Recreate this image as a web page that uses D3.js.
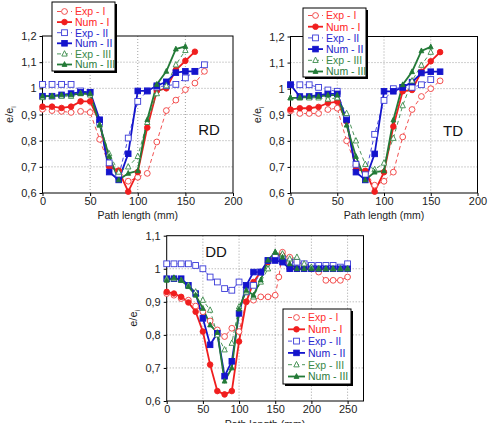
<!DOCTYPE html>
<html><head><meta charset="utf-8">
<script src="https://cdn.jsdelivr.net/npm/d3@7/dist/d3.min.js"></script>
<style>body{margin:0;background:#fff}svg{display:block}text{font-family:"Liberation Sans",Arial,sans-serif}</style>
</head><body>
<svg id="c" width="488" height="423"></svg>
<script>
// ---------- DATA ----------
const pathTop = [0,10,20,30,40,50,60,70,80,90,100,110,120,130,140,150,160,170];
const pathDD = [0,10,20,30,40,50,60,70,80,90,100,110,120,130,140,150,160,170,180,190,200,210,220,230,240,250];
const pathDDExpI = [0,10,20,30,40,50,60,70,80,90,100,110,120,130,140,150,155,160,170,180,190,200,210,220,230,240,250];

const rdExpI   = [0.92,0.915,0.912,0.908,0.912,0.908,0.805,0.705,0.685,0.645,0.66,0.675,0.795,0.915,0.955,0.995,1.02,1.065];
const rdNumI   = [0.93,0.93,0.925,0.93,0.95,0.95,0.87,0.70,0.685,0.605,0.68,0.85,0.99,1.0,1.07,1.105,1.14];
const rdExpII  = [1.015,1.015,1.015,1.015,0.99,0.985,0.87,0.715,0.665,0.81,0.95,0.99,1.005,1.01,1.015,1.04,1.065,1.09];
const rdNumII  = [0.97,0.97,0.975,0.98,0.985,0.985,0.88,0.68,0.65,0.75,0.99,0.99,1.01,1.025,1.06,1.065,1.065];
const rdExpIII = [0.965,0.97,0.97,0.97,0.98,0.975,0.86,0.75,0.68,0.70,0.74,0.87,0.98,1.01,1.09,1.145];
const rdNumIII = [0.97,0.97,0.975,0.975,0.98,0.98,0.86,0.74,0.65,0.675,0.685,0.88,1.015,1.065,1.15,1.16];

const tdExpI   = [0.915,0.905,0.905,0.905,0.92,0.925,0.80,0.705,0.68,0.63,0.645,0.68,0.815,0.92,0.97,1.0,1.03];
const tdNumI   = [0.92,0.925,0.925,0.93,0.945,0.95,0.875,0.69,0.685,0.605,0.68,0.855,0.99,0.995,1.065,1.105,1.14];
const tdExpII  = [1.015,1.015,1.015,1.005,0.995,0.99,0.885,0.71,0.67,0.825,0.955,1.0,1.005,1.005,1.015,1.035];
const tdNumII  = [1.015,0.97,0.97,0.975,0.98,0.98,0.88,0.68,0.65,0.75,0.99,0.99,1.005,1.025,1.06,1.065,1.065];
const tdExpIII = [0.965,0.965,0.965,0.965,0.96,0.965,0.905,0.80,0.71,0.69,0.715,0.81,0.935,1.03,1.09,1.14];
const tdNumIII = [0.965,0.965,0.97,0.97,0.975,0.975,0.86,0.74,0.65,0.68,0.685,0.88,1.015,1.065,1.145,1.16];

const ddExpI   = [0.925,0.92,0.91,0.905,0.887,0.87,0.842,0.815,0.795,0.82,0.81,0.9,0.905,0.915,0.915,0.92,0.975,1.05,1.035,1.02,1.01,1.0,0.99,0.965,0.965,0.965,0.975];
const ddNumI   = [0.93,0.925,0.915,0.898,0.87,0.81,0.71,0.63,0.62,0.63,0.78,0.9,0.96,0.99,1.02,1.04,1.04,1.0,1.0,1.0,1.0,1.0,1.0,1.0,1.0,1.0];
const ddExpII  = [1.015,1.015,1.015,1.015,1.01,1.0,0.975,0.96,0.94,0.935,0.96,0.93,0.95,0.99,1.025,1.035,1.03,1.02,1.02,1.015,1.01,1.01,1.01,1.01,1.005,1.015];
const ddNumII  = [0.97,0.97,0.97,0.95,0.925,0.85,0.77,0.805,0.675,0.72,0.865,0.95,0.99,0.99,1.025,1.025,1.02,1.0,1.0,1.0,1.0,1.0,1.0,1.0,1.0,1.0];
const ddExpIII = [0.97,0.97,0.965,0.95,0.93,0.905,0.875,0.80,0.755,0.775,0.885,0.93,0.915,0.96,1.0,1.05,1.045,1.03,1.035,1.015,1.005,1.0,1.0,1.0,1.0,1.0];
const ddNumIII = [0.965,0.973,0.965,0.946,0.92,0.88,0.83,0.807,0.66,0.70,0.878,0.935,0.92,0.966,1.026,1.05,1.035,1.015,1.0,1.0,1.0,1.0,1.0,1.0,1.0,1.0];

const seriesNames = ["Exp - I","Num - I","Exp - II","Num - II","Exp - III","Num - III"];
const xTicksTop = [0,50,100,150,200];
const xTicksDD = [0,50,100,150,200,250];
const yTicksTop = [0.6,0.7,0.8,0.9,1.0,1.1,1.2];
const yTicksDD = [0.6,0.7,0.8,0.9,1.0,1.1];

// ---------- STYLE ----------
const RED = "#f01e1e", BLUE = "#1414cc", GREEN = "#237a37";
const styles = [
  {color:"#f03c3c", dash:"4,3", w:0.9, marker:"circle", filled:false, text:"#ff3030"},
  {color:RED, dash:null, w:1.8, marker:"circle", filled:true, text:"#ff2020"},
  {color:"#3a3ad8", dash:"4,3", w:0.9, marker:"square", filled:false, text:"#2a2ad0"},
  {color:BLUE, dash:null, w:1.8, marker:"square", filled:true, text:"#2020c8"},
  {color:"#3a8a4a", dash:"4,3", w:0.9, marker:"triangle", filled:false, text:"#3a8a4a"},
  {color:GREEN, dash:null, w:1.8, marker:"triangle", filled:true, text:"#2a7a3a"}
];

const svg = d3.select("#c");
const locale = d3.formatLocale({decimal:",", thousands:".", grouping:[3], currency:["",""]});
const fmt = locale.format(".1~f");

function drawMarker(g, st, x, y) {
  const fill = st.filled ? st.color : "#fff";
  if (st.marker === "circle") {
    g.append("circle").attr("cx",x).attr("cy",y).attr("r", st.filled?2.8:2.9)
      .attr("fill",fill).attr("stroke",st.color).attr("stroke-width",0.9);
  } else if (st.marker === "square") {
    const s = st.filled?5.6:5.8;
    g.append("rect").attr("x",x-s/2).attr("y",y-s/2).attr("width",s).attr("height",s)
      .attr("fill",fill).attr("stroke",st.color).attr("stroke-width",0.9);
  } else {
    const s = st.filled?4.8:5.4;
    g.append("path").attr("d",`M${x},${y-s*0.6}L${x+s/2},${y+s*0.4}L${x-s/2},${y+s*0.4}Z`)
      .attr("fill",fill).attr("stroke",st.color).attr("stroke-width",0.9);
  }
}

function panel(cfg) {
  const x = d3.scaleLinear().domain(cfg.xDomain).range([cfg.left, cfg.right]);
  const y = d3.scaleLinear().domain(cfg.yDomain).range([cfg.bottom, cfg.top]);
  const g = svg.append("g");
  // grid
  const grid = g.append("g").attr("stroke","#8a8a8a").attr("stroke-width",0.8).attr("stroke-dasharray","1,2");
  cfg.xTicks.forEach(t => { if (t>cfg.xDomain[0] && t<cfg.xDomain[1]) grid.append("line").attr("x1",x(t)).attr("x2",x(t)).attr("y1",cfg.top).attr("y2",cfg.bottom); });
  cfg.yTicks.forEach(t => { if (t>cfg.yDomain[0]+1e-9 && t<cfg.yDomain[1]-1e-9) grid.append("line").attr("x1",cfg.left).attr("x2",cfg.right).attr("y1",y(t)).attr("y2",y(t)); });
  // axes
  const ax = g.append("g").attr("transform",`translate(0,${cfg.bottom})`)
    .call(d3.axisBottom(x).tickValues(cfg.xTicks).tickSize(3).tickPadding(1).tickFormat(d3.format("d")));
  const ay = g.append("g").attr("transform",`translate(${cfg.left},0)`)
    .call(d3.axisLeft(y).tickValues(cfg.yTicks).tickSize(3).tickPadding(3).tickFormat(fmt));
  [ax,ay].forEach(a => { a.select(".domain").remove(); a.selectAll("text").attr("font-size",11).attr("fill","#222").style("font-family","'Liberation Sans',Arial,sans-serif"); a.selectAll("line").attr("stroke","#000"); });
  // frame
  g.append("rect").attr("x",cfg.left).attr("y",cfg.top).attr("width",cfg.right-cfg.left).attr("height",cfg.bottom-cfg.top)
    .attr("fill","none").attr("stroke","#000").attr("stroke-width",1);
  // series
  const sg = g.append("g");
  cfg.series.forEach((vals,i) => {
    const st = styles[i];
    const xs = cfg.paths[i];
    const pts = vals.map((v,k)=>[x(xs[k]), y(v)]);
    sg.append("path").attr("d", d3.line()(pts)).attr("fill","none").attr("stroke",st.color)
      .attr("stroke-width",st.w).attr("stroke-dasharray",st.dash);
  });
  cfg.series.forEach((vals,i) => {
    const st = styles[i];
    const xs = cfg.paths[i];
    vals.forEach((v,k)=>drawMarker(sg, st, x(xs[k]), y(v)));
  });
  // labels
  g.append("text").attr("x",(cfg.left+cfg.right)/2).attr("y",cfg.xTitleY).attr("text-anchor","middle")
    .attr("font-size",10.5).attr("fill","#222").text("Path length (mm)");
  const yt = g.append("text").attr("transform",`translate(${cfg.yTitleX},${(cfg.top+cfg.bottom)/2}) rotate(-90)`)
    .attr("text-anchor","middle").attr("font-size",11).attr("fill","#222");
  yt.append("tspan").text("e/e");
  yt.append("tspan").attr("font-size",7).attr("dy",3).text("i");
  g.append("text").attr("x",cfg.nameX).attr("y",cfg.nameY).attr("text-anchor","middle")
    .attr("font-size",15).attr("fill","#111").text(cfg.name);
  // legend
  const L = cfg.legend;
  const lg = g.append("g");
  lg.append("rect").attr("x",L.x+2).attr("y",L.y+2).attr("width",L.w).attr("height",L.h).attr("fill","#000");
  lg.append("rect").attr("x",L.x).attr("y",L.y).attr("width",L.w).attr("height",L.h).attr("fill","#fff").attr("stroke","#000").attr("stroke-width",1);
  seriesNames.forEach((nm,i) => {
    const st = styles[i];
    const yy = L.y + L.first + i*L.step;
    lg.append("line").attr("x1",L.x+5).attr("x2",L.x+5+L.len).attr("y1",yy).attr("y2",yy)
      .attr("stroke",st.color).attr("stroke-width",st.w).attr("stroke-dasharray",st.dash);
    drawMarker(lg, st, L.x+5+L.len/2, yy);
    lg.append("text").attr("x",L.x+L.len+8).attr("y",yy+3.8).attr("font-size",10.5).attr("fill",st.text).text(nm);
  });
}

panel({name:"RD", nameX:209, nameY:135, left:42.5, right:233, top:36, bottom:193,
  xDomain:[0,200], yDomain:[0.6,1.2], xTicks:xTicksTop, yTicks:yTicksTop, xTitleY:219, yTitleX:13,
  paths:[pathTop,pathTop,pathTop,pathTop,pathTop,pathTop],
  series:[rdExpI,rdNumI,rdExpII,rdNumII,rdExpIII,rdNumIII],
  legend:{x:52,y:2,w:63,h:69,first:9.5,step:10.6,len:15}});

panel({name:"TD", nameX:453, nameY:136, left:290.5, right:477.5, top:36.5, bottom:193,
  xDomain:[0,200], yDomain:[0.6,1.2], xTicks:xTicksTop, yTicks:yTicksTop, xTitleY:219, yTitleX:261,
  paths:[pathTop,pathTop,pathTop,pathTop,pathTop,pathTop],
  series:[tdExpI,tdNumI,tdExpII,tdNumII,tdExpIII,tdNumIII],
  legend:{x:303,y:8,w:63,h:69,first:7.5,step:11.2,len:15}});

panel({name:"DD", nameX:216, nameY:257, left:166.7, right:363.5, top:235.7, bottom:401,
  xDomain:[0,272], yDomain:[0.6,1.1], xTicks:xTicksDD, yTicks:yTicksDD, xTitleY:428, yTitleX:137,
  paths:[pathDDExpI,pathDD,pathDD,pathDD,pathDD,pathDD],
  series:[ddExpI,ddNumI,ddExpII,ddNumII,ddExpIII,ddNumIII],
  legend:{x:283,y:309,w:68,h:75,first:8.5,step:11.8,len:17}});
</script>
</body></html>
